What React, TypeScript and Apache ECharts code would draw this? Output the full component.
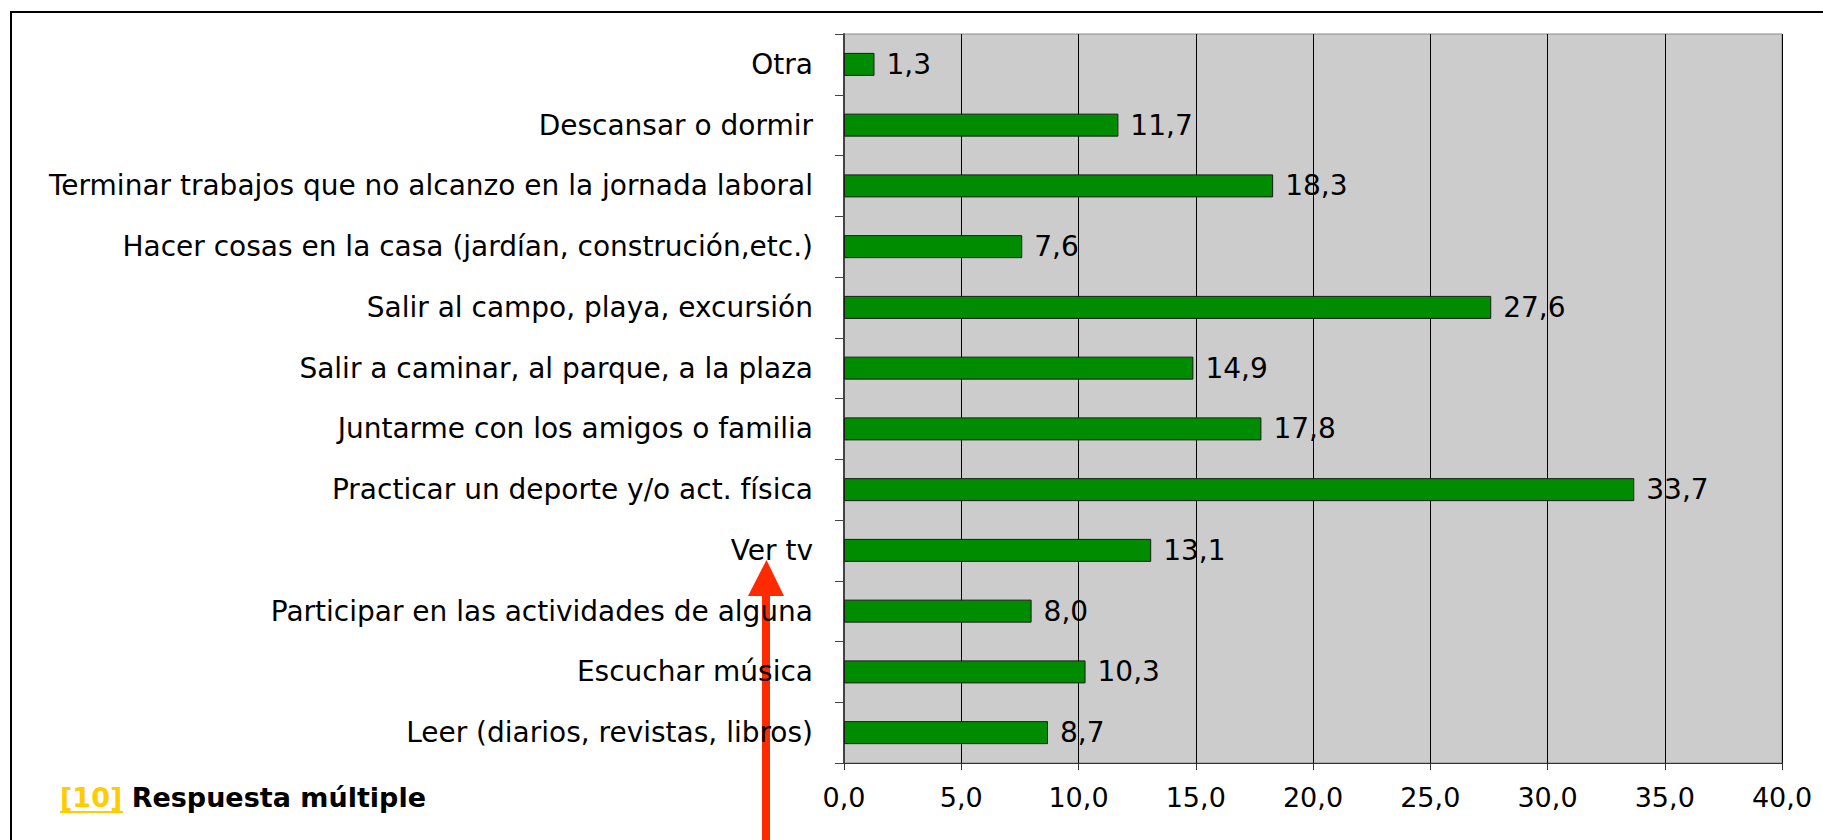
import React, { useEffect, useRef } from "react";
import * as echarts from "echarts";

const categories = [
  "Otra",
  "Descansar o dormir",
  "Terminar trabajos que no alcanzo en la jornada laboral",
  "Hacer cosas en la casa (jardían, construción,etc.)",
  "Salir al campo, playa, excursión",
  "Salir a caminar, al parque, a la plaza",
  "Juntarme con los amigos o familia",
  "Practicar un deporte y/o act. física",
  "Ver tv",
  "Participar en las actividades de alguna",
  "Escuchar música",
  "Leer (diarios, revistas, libros)",
];

const values = [1.3, 11.7, 18.3, 7.6, 27.6, 14.9, 17.8, 33.7, 13.1, 8.0, 10.3, 8.7];

const footnoteRef = "[10]";
const footnoteText = "Respuesta múltiple";

const FONT = "'DejaVu Sans', sans-serif";
const fmt = (v: number) => v.toFixed(1).replace(".", ",");

export default function App() {
  const ref = useRef<HTMLDivElement>(null);
  useEffect(() => {
    if (!ref.current) return;
    const chart = echarts.init(ref.current, null, { renderer: "svg" });
    chart.setOption({
      animation: false,
      backgroundColor: "#ffffff",
      grid: {
        left: 844,
        top: 34,
        width: 938,
        height: 729,
        show: true,
        backgroundColor: "#cccccc",
        borderColor: "#8a8a8a",
        borderWidth: 1,
      },
      xAxis: {
        type: "value",
        min: 0,
        max: 40,
        interval: 5,
        axisLine: { show: true, lineStyle: { color: "#333333", width: 1 } },
        axisTick: { show: true, length: 7, lineStyle: { color: "#333333" } },
        axisLabel: {
          margin: 21,
          fontSize: 27,
          fontFamily: FONT,
          color: "#000000",
          formatter: (v: number) => fmt(v),
        },
        splitLine: { show: true, lineStyle: { color: "#000000", width: 1 } },
      },
      yAxis: {
        type: "category",
        data: categories,
        inverse: true,
        axisLine: { show: true, lineStyle: { color: "#444444", width: 2 } },
        axisTick: { show: true, length: 9, lineStyle: { color: "#444444" } },
        axisLabel: {
          margin: 31,
          fontSize: 28,
          fontFamily: FONT,
          color: "#000000",
        },
      },
      series: [
        {
          type: "bar",
          data: values,
          barWidth: 23,
          itemStyle: { color: "#008c00", borderColor: "#1a1a1a", borderWidth: 1 },
          label: {
            show: true,
            position: "right",
            distance: 12,
            fontSize: 28,
            fontFamily: FONT,
            color: "#000000",
            formatter: (p: any) => fmt(p.value),
          },
        },
      ],
      graphic: [
        {
          type: "rect",
          shape: { x: 11, y: 12, width: 1840, height: 900 },
          style: { fill: "none", stroke: "#000000", lineWidth: 2 },
          silent: true,
        },
        {
          type: "text",
          x: 60,
          y: 797,
          style: {
            text: `{a|${footnoteRef}}{b| ${footnoteText}}`,
            verticalAlign: "middle",
            rich: {
              a: { fontSize: 27, fontWeight: "bold", fontFamily: FONT, fill: "#ffcc00", color: "#ffcc00" },
              b: { fontSize: 27, fontWeight: "bold", fontFamily: FONT, fill: "#000000", color: "#000000" },
            },
          },
        },
        {
          type: "line",
          shape: { x1: 60, y1: 812, x2: 123, y2: 812 },
          style: { stroke: "#ffcc00", lineWidth: 2 },
        },
        {
          type: "rect",
          shape: { x: 762, y: 594, width: 8, height: 260 },
          style: { fill: "#ff2a00" },
        },
        {
          type: "polygon",
          shape: { points: [[766.5, 560], [784, 596], [748, 596]] },
          style: { fill: "#ff2a00" },
        },
      ],
    });
    return () => chart.dispose();
  }, []);
  return (
    <div
      ref={ref}
      style={{ position: "fixed", left: 0, top: 0, width: 1823, height: 840 }}
    />
  );
}
